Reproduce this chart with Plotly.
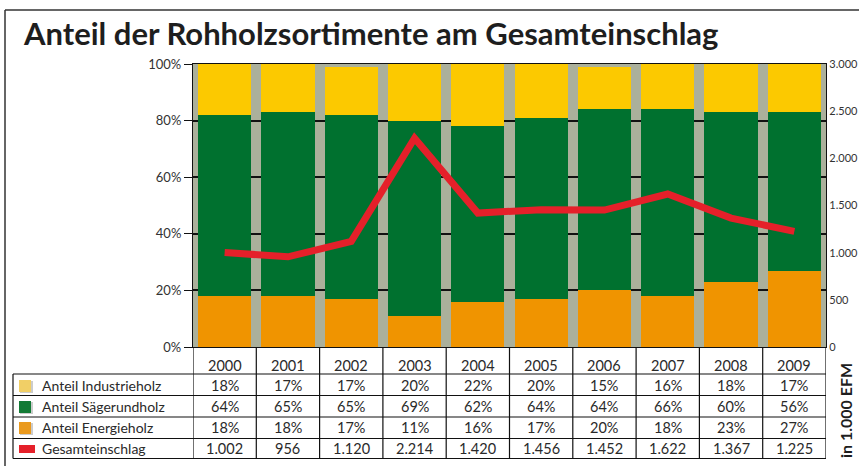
import plotly.graph_objects as go

# ---------------- data ----------------
years = ["2000", "2001", "2002", "2003", "2004", "2005", "2006", "2007", "2008", "2009"]
anteil_industrieholz = [18, 17, 17, 20, 22, 20, 15, 16, 18, 17]
anteil_saegerundholz = [64, 65, 65, 69, 62, 64, 64, 66, 60, 56]
anteil_energieholz = [18, 18, 17, 11, 16, 17, 20, 18, 23, 27]
gesamteinschlag = [1002, 956, 1120, 2214, 1420, 1456, 1452, 1622, 1367, 1225]
gesamteinschlag_labels = ["1.002", "956", "1.120", "2.214", "1.420", "1.456", "1.452", "1.622", "1.367", "1.225"]

pct_ticks = [0, 20, 40, 60, 80, 100]
pct_tick_labels = ["0%", "20%", "40%", "60%", "80%", "100%"]
efm_ticks = [0, 500, 1000, 1500, 2000, 2500, 3000]
efm_tick_labels = ["0", "500", "1.000", "1.500", "2.000", "2.500", "3.000"]

row_labels = ["Anteil Industrieholz", "Anteil Sägerundholz", "Anteil Energieholz", "Gesamteinschlag"]
title_text = "Anteil der Rohholzsortimente am Gesamteinschlag"
unit_text = "in 1.000 EFM"

# ---------------- styling ----------------
W, H = 859, 466
L, R, T, B = 193, 33, 64, 119
PW, PH = W - L - R, H - T - B

C_YELLOW = "#fcc900"
C_GREEN = "#00712f"
C_ORANGE = "#f09400"
C_RED = "#e5202a"
FONT = "Lato, 'Open Sans', sans-serif"
TXT = "#2a2a2a"


def px_x(px):
    return (px - L) / PW


def px_y(py):
    return (H - B - py) / PH


cat_idx = list(range(len(years)))

fig = go.Figure()
fig.add_trace(go.Bar(x=years, y=anteil_energieholz, name="Anteil Energieholz",
                     marker=dict(color=C_ORANGE, line=dict(width=0))))
fig.add_trace(go.Bar(x=years, y=anteil_saegerundholz, name="Anteil Sägerundholz",
                     marker=dict(color=C_GREEN, line=dict(width=0))))
fig.add_trace(go.Bar(x=years, y=anteil_industrieholz, name="Anteil Industrieholz",
                     marker=dict(color=C_YELLOW, line=dict(width=0))))
fig.add_trace(go.Scatter(x=years, y=gesamteinschlag, name="Gesamteinschlag", yaxis="y2",
                         mode="lines", line=dict(color=C_RED, width=7)))

shapes = []
annotations = []

# outer frame (left + top)
shapes.append(dict(type="line", xref="paper", yref="paper", x0=px_x(5), x1=px_x(W + 2),
                   y0=px_y(10), y1=px_y(10), line=dict(color="#333", width=1.5)))
shapes.append(dict(type="line", xref="paper", yref="paper", x0=px_x(5), x1=px_x(5),
                   y0=px_y(10), y1=px_y(H + 2), line=dict(color="#333", width=1.5)))

# table grid
row_lines = [374, 395.5, 417, 438.5, 458.5]
for yl in row_lines:
    shapes.append(dict(type="line", xref="paper", yref="paper", x0=px_x(13), x1=1,
                       y0=px_y(yl), y1=px_y(yl), line=dict(color="#111", width=1.2)))
shapes.append(dict(type="line", xref="paper", yref="paper", x0=px_x(13), x1=px_x(13),
                   y0=px_y(374), y1=px_y(458.5), line=dict(color="#111", width=1.2)))
for i in range(len(years) + 1):
    shapes.append(dict(type="line", xref="x", yref="paper", x0=i - 0.5, x1=i - 0.5,
                       y0=0, y1=px_y(458.5), line=dict(color="#111", width=1.2)))

row_centers = [385, 406.2, 427.8, 448.5]

# year header
for i, yr in zip(cat_idx, years):
    annotations.append(dict(x=i, xref="x", y=px_y(365), yref="paper", text=yr, showarrow=False,
                            font=dict(family=FONT, size=14.5, color=TXT), xanchor="center", yanchor="middle"))

rows = [
    [f"{v}%" for v in anteil_industrieholz],
    [f"{v}%" for v in anteil_saegerundholz],
    [f"{v}%" for v in anteil_energieholz],
    gesamteinschlag_labels,
]
for r, (label, vals) in enumerate(zip(row_labels, rows)):
    yc = px_y(row_centers[r])
    annotations.append(dict(x=px_x(40), xref="paper", y=yc, yref="paper", text=label, showarrow=False,
                            font=dict(family=FONT, size=14, color=TXT), xanchor="left", yanchor="middle"))
    for i, v in zip(cat_idx, vals):
        annotations.append(dict(x=i, xref="x", y=yc, yref="paper", text=v, showarrow=False,
                                font=dict(family=FONT, size=14.5, color=TXT), xanchor="center", yanchor="middle"))

# legend icons
icons = [("#f1cf66", 380, 392), ("#127a35", 401, 413), ("#ea9a1e", 422, 434)]
for col, y0, y1 in icons:
    shapes.append(dict(type="rect", xref="paper", yref="paper", x0=px_x(20), x1=px_x(33),
                       y0=px_y(y1 + 1), y1=px_y(y0 + 1), fillcolor="#9a9a9a", line=dict(width=0), opacity=0.5))
    shapes.append(dict(type="rect", xref="paper", yref="paper", x0=px_x(19), x1=px_x(31),
                       y0=px_y(y1), y1=px_y(y0), fillcolor=col, line=dict(width=0)))
shapes.append(dict(type="rect", xref="paper", yref="paper", x0=px_x(19), x1=px_x(35),
                   y0=px_y(453), y1=px_y(445), fillcolor=C_RED, line=dict(width=0)))

# title
annotations.append(dict(x=px_x(21), xref="paper", y=px_y(33), yref="paper", text="<b>" + title_text + "</b>",
                        showarrow=False, font=dict(family=FONT, size=31, color="#1e1e1e"),
                        xanchor="left", yanchor="middle"))
# unit label
annotations.append(dict(x=px_x(845), xref="paper", y=px_y(410), yref="paper", text="<b>" + unit_text + "</b>",
                        showarrow=False, textangle=-90, font=dict(family=FONT, size=16, color="#1e1e1e"),
                        xanchor="center", yanchor="middle"))

fig.update_layout(
    width=W, height=H,
    margin=dict(l=L, r=R, t=T, b=B, autoexpand=False),
    paper_bgcolor="white",
    plot_bgcolor="#abb09b",
    barmode="stack",
    bargap=0.16,
    showlegend=False,
    font=dict(family=FONT, color=TXT),
    xaxis=dict(type="category", showticklabels=False, ticks="", showgrid=False,
               showline=True, linecolor="#111", linewidth=1.2, mirror=True,
               range=[-0.5, len(years) - 0.5], fixedrange=True),
    yaxis=dict(range=[0, 100], tickvals=pct_ticks, ticktext=pct_tick_labels,
               ticks="outside", ticklen=8, tickcolor="#111", tickwidth=1.2,
               showline=True, linecolor="#111", linewidth=1.2,
               showgrid=True, gridcolor="#111", gridwidth=1.5, zeroline=False,
               tickfont=dict(family=FONT, size=13, color="#333"), automargin=False),
    yaxis2=dict(range=[0, 3000], tickvals=efm_ticks, ticktext=efm_tick_labels, overlaying="y", side="right",
                ticks="", showline=True, linecolor="#111", linewidth=1.2,
                showgrid=False, zeroline=False,
                tickfont=dict(family=FONT, size=11, color="#333"), automargin=False),
    shapes=shapes,
    annotations=annotations,
)

fig.write_html("out.html", config={"displayModeBar": False},
               post_script="document.body.style.margin='0';document.body.style.overflow='hidden';")
